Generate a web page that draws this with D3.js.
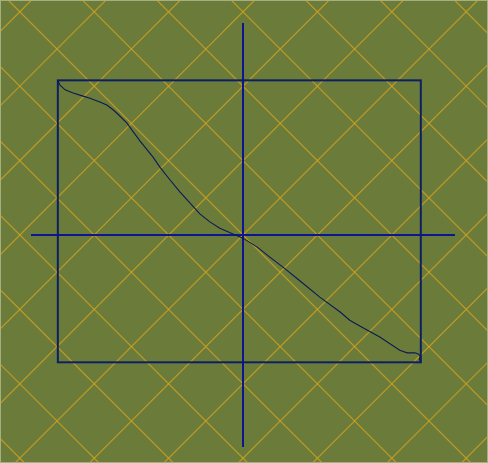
<!DOCTYPE html>
<html>
<head>
<meta charset="utf-8">
<script src="https://cdn.jsdelivr.net/npm/d3@7"></script>
<style>
  body { margin: 0; background: #6b7c3a; }
  svg { display: block; }
</style>
</head>
<body>
<svg id="chart"></svg>
<script>
// curve, in plot units (centre of the cross = 0,0)
const curveX = [-3.52, -3.48, -3.38, -3.23, -3.04, -2.91, -2.72, -2.59, -2.47, -2.38,
  -2.21, -1.96, -1.71, -1.58, -1.39, -1.20, -1.01, -0.82, -0.63, -0.44,
  -0.19, 0.00, 0.27, 0.51, 0.76, 1.08, 1.46, 1.84, 2.03, 2.22,
  2.60, 2.98, 3.12, 3.27, 3.33, 3.37, 3.35, 3.38];
const curveY = [2.94, 2.85, 2.76, 2.70, 2.64, 2.60, 2.53, 2.47, 2.38, 2.30,
  2.13, 1.79, 1.48, 1.29, 1.05, 0.82, 0.61, 0.40, 0.25, 0.13,
  0.02, -0.06, -0.23, -0.42, -0.61, -0.87, -1.18, -1.46, -1.62, -1.73,
  -1.94, -2.19, -2.24, -2.24, -2.26, -2.30, -2.36, -2.42];

// axis cross half length and the rotated grid steps
const crossLen = 4.03;
const gridSteps = d3.range(-8, 9);

const width = 488;
const height = 463;

const svg = d3.select('#chart')
    .attr('width', width)
    .attr('height', height);

const x = d3.scaleLinear()
    .domain([-crossLen, crossLen])
    .range([31, 455]);

const y = d3.scaleLinear()
    .domain([-crossLen, crossLen])
    .range([447, 23]);

//background
svg.append('rect')
    .attr('width', width)
    .attr('height', height)
    .attr('fill', '#6b7c3a');

//diagonal grid, a unit grid turned 45 degrees
const g = svg.append('g')
    .attr('stroke', '#d8a420')
    .attr('stroke-width', 1.2)
    .attr('stroke-opacity', 0.75);

gridSteps.forEach(k => {
    const c = k * Math.SQRT2;
    // X - Y = c
    g.append('line')
        .attr('x1', x(-10)).attr('y1', y(-10 - c))
        .attr('x2', x(10)).attr('y2', y(10 - c));
    // X + Y = c
    g.append('line')
        .attr('x1', x(-10)).attr('y1', y(c + 10))
        .attr('x2', x(10)).attr('y2', y(c - 10));
});

//axis cross
svg.append('line')
    .attr('x1', x(-crossLen)).attr('x2', x(crossLen))
    .attr('y1', y(0)).attr('y2', y(0))
    .attr('stroke', '#0b1690')
    .attr('stroke-width', 2);

svg.append('line')
    .attr('x1', x(0)).attr('x2', x(0))
    .attr('y1', y(-crossLen)).attr('y2', y(crossLen))
    .attr('stroke', '#0b1690')
    .attr('stroke-width', 2);

//bounding box of the curve
const [xMin, xMax] = d3.extent(curveX);
const [yMin, yMax] = d3.extent(curveY);

svg.append('rect')
    .attr('x', x(xMin))
    .attr('y', y(yMax))
    .attr('width', x(xMax) - x(xMin))
    .attr('height', y(yMin) - y(yMax))
    .attr('fill', 'none')
    .attr('stroke', '#0c1f63')
    .attr('stroke-width', 2);

//curve
const pts = curveX.map((d, i) => [d, curveY[i]]);

svg.append('path')
    .datum(pts)
    .attr('fill', 'none')
    .attr('stroke', '#0b1a55')
    .attr('stroke-width', 1.1)
    .attr('d', d3.line()
        .x(d => x(d[0]))
        .y(d => y(d[1])));

//thin light frame round the picture
svg.append('rect')
    .attr('x', 0.5)
    .attr('y', 0.5)
    .attr('width', width - 1)
    .attr('height', height - 1)
    .attr('fill', 'none')
    .attr('stroke', '#a6b07e')
    .attr('stroke-width', 1);
</script>
</body>
</html>
